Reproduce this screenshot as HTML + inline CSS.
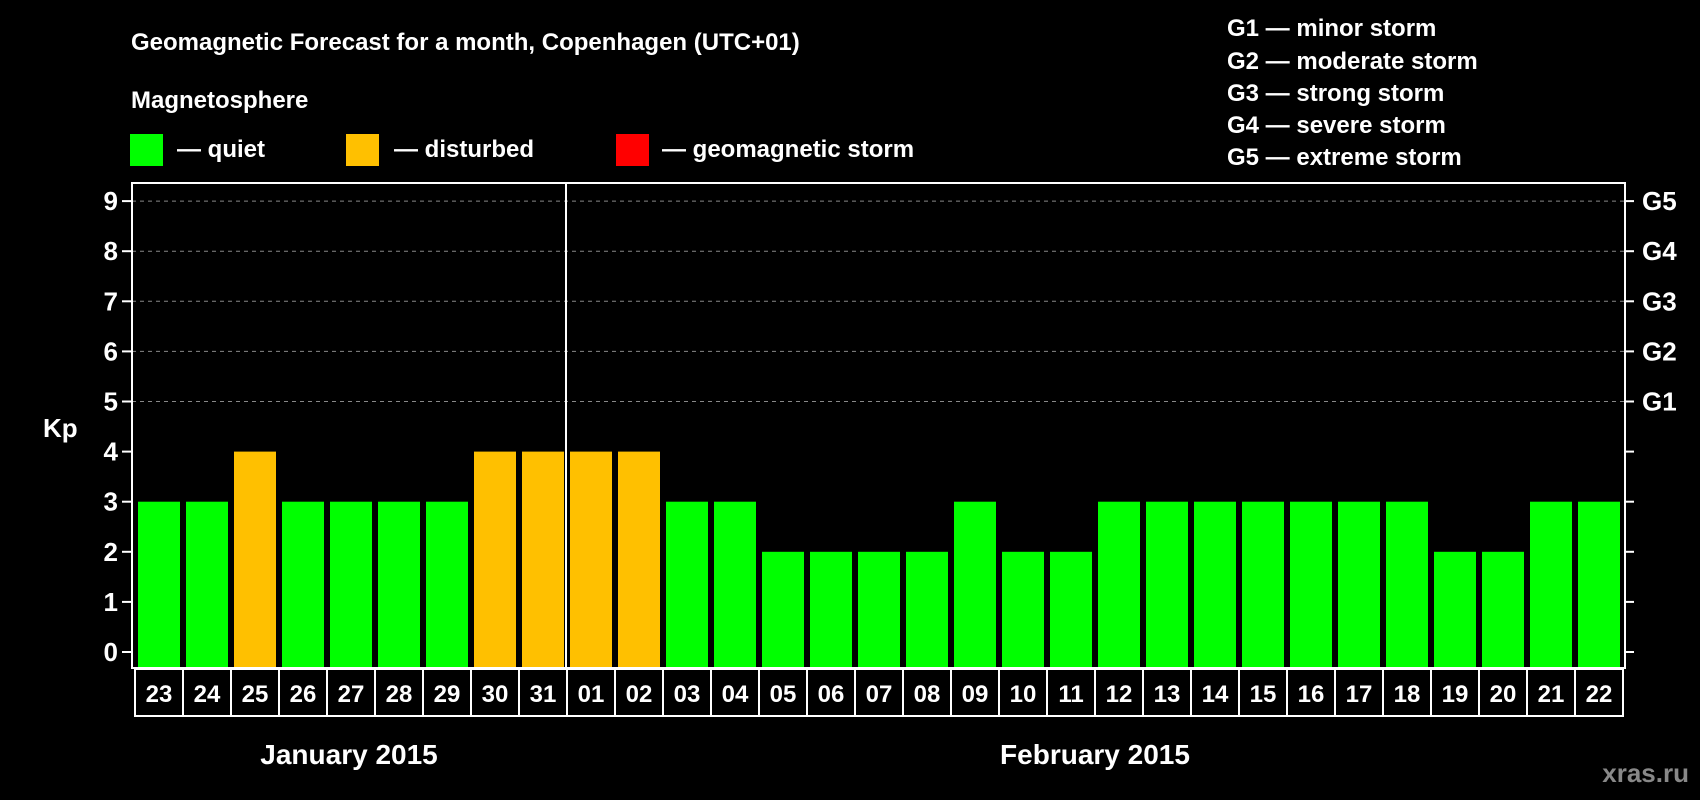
<!DOCTYPE html>
<html><head><meta charset="utf-8"><style>
html,body{margin:0;padding:0;background:#000;}
svg{display:block;}
text{font-family:"Liberation Sans",sans-serif;font-weight:bold;fill:#fff;}
</style></head><body>
<svg id="chart" width="1700" height="800" viewBox="0 0 1700 800" xmlns="http://www.w3.org/2000/svg">
<rect width="1700" height="800" fill="#000"/>
<text x="131" y="50" font-size="24">Geomagnetic Forecast for a month, Copenhagen (UTC+01)</text>
<text x="131" y="108" font-size="24">Magnetosphere</text>
<g>
<rect x="130" y="134" width="33" height="32" fill="#00ff00"/>
<text x="177" y="157" font-size="24">— quiet</text></g>
<g>
<rect x="346" y="134" width="33" height="32" fill="#ffc000"/>
<text x="394" y="157" font-size="24">— disturbed</text></g>
<g>
<rect x="616" y="134" width="33" height="32" fill="#ff0000"/>
<text x="662" y="157" font-size="24">— geomagnetic storm</text></g>
<g font-size="24">
<text x="1227" y="36">G1 — minor storm</text>
<text x="1227" y="69">G2 — moderate storm</text>
<text x="1227" y="101">G3 — strong storm</text>
<text x="1227" y="133">G4 — severe storm</text>
<text x="1227" y="165">G5 — extreme storm</text>
</g>
<g id="plot"></g>
<text x="349" y="764" font-size="28" text-anchor="middle">January 2015</text>
<text x="1095" y="764" font-size="28" text-anchor="middle">February 2015</text>
<text x="1689" y="782" font-size="26" text-anchor="end" style="fill:#888">xras.ru</text>
</svg>
<script>
const days = ["23","24","25","26","27","28","29","30","31","01","02","03","04","05","06","07","08","09","10","11","12","13","14","15","16","17","18","19","20","21","22"];
const kp = [3,3,4,3,3,3,3,4,4,4,4,3,3,2,2,2,2,3,2,2,3,3,3,3,3,3,3,2,2,3,3];
const yTicks = [0,1,2,3,4,5,6,7,8,9];
const gLabels = ["G1","G2","G3","G4","G5"];
const monthBreak = 9;

const NS="http://www.w3.org/2000/svg";
const plot=document.getElementById('plot');
const L=132,R=1625,T=183,B=668,slot0=134,slotW=48;
const y=v=>652-v*50.1;
const x=i=>slot0+i*slotW;
function mk(tag,at,parent){const e=document.createElementNS(NS,tag);for(const k in at)e.setAttribute(k,at[k]);(parent||plot).appendChild(e);return e;}

yTicks.forEach(v=>{
  if(v>=5){const g=mk('line',{x1:L,x2:R,y1:y(v),y2:y(v),stroke:'#888','stroke-dasharray':'4,4','stroke-width':1});
  
  }
  const t1=mk('line',{x1:L-10,x2:L,y1:y(v),y2:y(v),stroke:'#fff','stroke-width':2});
  
  
  const t2=mk('line',{x1:R,x2:R+9,y1:y(v),y2:y(v),stroke:'#fff','stroke-width':2});
  
  
  const lb=mk('text',{x:L-14,y:y(v)+9,'font-size':26,'text-anchor':'end'});
  lb.textContent=v;
  
  
});
gLabels.forEach((g,i)=>{
  const t=mk('text',{x:1642,y:y(5+i)+9,'font-size':26});
  t.textContent=g;
  
  
});
const kpl=mk('text',{x:43,y:437,'font-size':26});
kpl.textContent='Kp';



kp.forEach((v,i)=>{
  const c=v>=5?'#ff0000':(v>=4?'#ffc000':'#00ff00');
  const b=mk('rect',{x:x(i)+4,y:y(v),width:42,height:y(0)-y(v)+16,fill:c});
  
  
  const bx=mk('rect',{x:x(i)+1,y:669,width:slotW,height:47,fill:'none',stroke:'#fff','stroke-width':2});
  
  
  const t=mk('text',{x:x(i)+25,y:702,'font-size':24,'text-anchor':'middle'});
  t.textContent=days[i];
  
  
});
const fr=mk('rect',{x:L,y:T,width:R-L,height:B-T,fill:'none',stroke:'#fff','stroke-width':2});


const sep=mk('line',{x1:x(monthBreak),x2:x(monthBreak),y1:T,y2:B,stroke:'#fff','stroke-width':2});


</script>
</body></html>
